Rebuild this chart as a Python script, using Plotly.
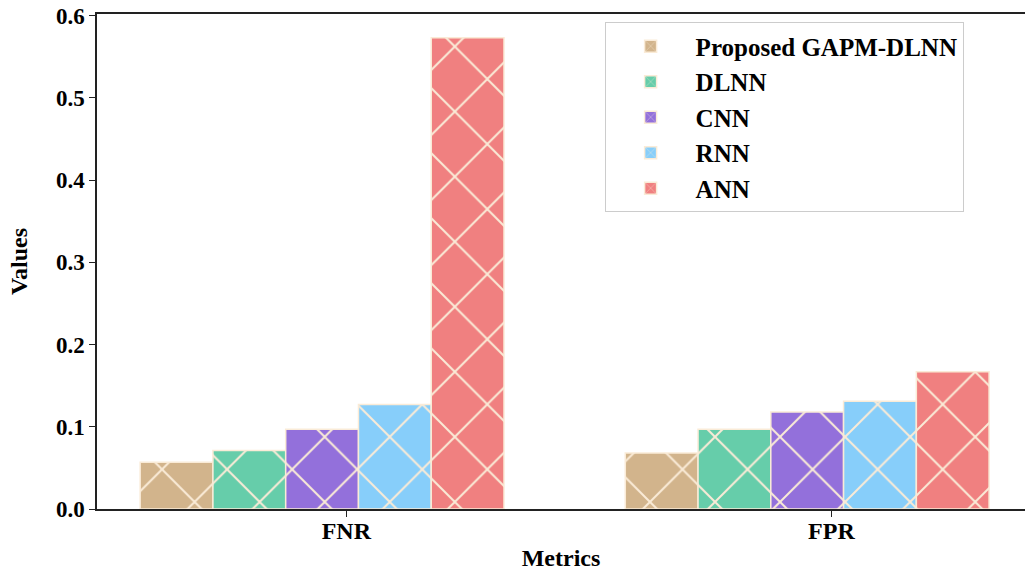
import plotly.graph_objects as go

# Error rates per metric for each model
metrics = ["FNR", "FPR"]
models = ["Proposed GAPM-DLNN", "DLNN", "CNN", "RNN", "ANN"]
gapm_dlnn = [0.057, 0.068]
dlnn = [0.071, 0.097]
cnn = [0.097, 0.118]
rnn = [0.127, 0.131]
ann = [0.573, 0.167]

series = [gapm_dlnn, dlnn, cnn, rnn, ann]
colors = ["#D2B48C", "#66CDAA", "#9370DB", "#87CEFA", "#F08080"]
hatch_color = "#FAEBD7"
font_family = "Liberation Serif, Times New Roman, serif"

positions = list(range(len(metrics)))

fig = go.Figure()
for name, vals, col in zip(models, series, colors):
    fig.add_trace(go.Bar(
        x=positions,
        y=vals,
        name=name,
        legendgroup=name,
        marker=dict(
            color=col,
            line=dict(color=hatch_color, width=1.5),
            pattern=dict(shape="x", fgcolor=hatch_color, bgcolor=col,
                         fillmode="replace", size=46, solidity=0.085),
        ),
    ))

fig.update_layout(
    width=1025,
    height=571,
    margin=dict(l=97, r=0, t=14, b=62),
    paper_bgcolor="white",
    plot_bgcolor="white",
    barmode="group",
    bargap=0.25,
    bargroupgap=0,
    font=dict(family=font_family, size=22, color="black", weight="bold"),
    showlegend=True,
    legend=dict(
        x=0.547, y=0.983, xanchor="left", yanchor="top",
        bgcolor="white", bordercolor="#CCCCCC", borderwidth=1,
        font=dict(family=font_family, size=25, color="black", weight="bold"),
        itemwidth=80, tracegroupgap=4, traceorder="normal",
    ),
    xaxis=dict(
        range=[-0.464, 1.449],
        automargin=False,
        tickmode="array",
        tickvals=[p + 0.05 for p in positions],
        ticktext=metrics,
        ticks="outside", ticklen=6, tickwidth=1.2, tickcolor="#222",
        showline=True, linecolor="#222", linewidth=1.5, mirror=True,
        showgrid=False, zeroline=False,
        tickfont=dict(size=24),
        ticklabelstandoff=-7,
        title=dict(text="Metrics", font=dict(size=24), standoff=10),
    ),
    yaxis=dict(
        range=[0, 0.602],
        automargin=False,
        tickmode="array",
        tickvals=[0.0, 0.1, 0.2, 0.3, 0.4, 0.5, 0.6],
        ticktext=["0.0", "0.1", "0.2", "0.3", "0.4", "0.5", "0.6"],
        ticks="outside", ticklen=6, tickwidth=1.2, tickcolor="#222",
        showline=True, linecolor="#222", linewidth=1.5, mirror=False,
        showgrid=False, zeroline=False,
        tickfont=dict(size=23),
        title=dict(text="Values", font=dict(size=24), standoff=22),
    ),
)

fig.write_html("out.html")
